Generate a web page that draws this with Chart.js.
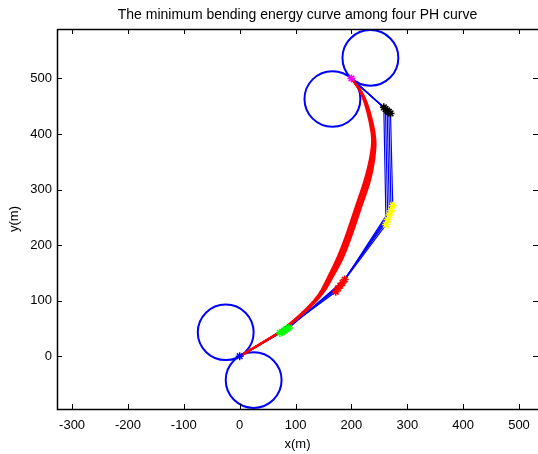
<!DOCTYPE html>
<html>
<head>
<meta charset="utf-8">
<title>Minimum bending energy PH curve</title>
<script src="https://cdn.jsdelivr.net/npm/chart.js@4.4.1/dist/chart.umd.min.js"></script>
<style>
  html, body { margin: 0; padding: 0; background: #fff; }
  canvas { display: block; }
</style>
</head>
<body>
<canvas id="phChart" width="538" height="454"></canvas>
<script>
// Axis ticks (metres)
const xTicks = [-300, -200, -100, 0, 100, 200, 300, 400, 500];
const yTicks = [0, 100, 200, 300, 400, 500];

// Turning circles at start and end pose
const circleRadius = 50;
const circleX = [-25, 25, 166, 234];
const circleY = [43, -43, 463, 537];

// Shared end points of every curve
const startX = [0];
const startY = [0];
const endX = [200];
const endY = [500];

// Inner control points P1..P4 of the candidate control polygons
const p1X = [72, 76, 80, 84, 88];
const p1Y = [42, 44, 46, 49, 51];
const p2X = [172, 176, 180, 184, 188];
const p2Y = [116, 122, 127, 132, 138];
const p3X = [262, 265, 268, 271, 274];
const p3Y = [237, 246, 254, 262, 271];
const p4X = [258, 261, 264, 267, 270];
const p4Y = [448, 445, 442, 440, 437];

// Sampled PH curves
const curveY = [0, 24, 50, 84, 112, 140, 180, 225, 270, 315, 355, 390, 424, 455, 478, 500];
const curve1X = [0, 40, 79, 118, 142, 157, 176, 193, 208, 223, 233, 237, 232, 224, 215, 200];
const curve2X = [0, 40, 80, 119, 144, 159, 178, 195, 210, 225, 235, 238, 233, 225, 215, 200];
const curve3X = [0, 40, 80, 120, 145, 161, 181, 198, 213, 228, 237, 240, 234, 226, 216, 200];
const curve4X = [0, 40, 80, 121, 146, 163, 183, 200, 215, 230, 239, 241, 235, 227, 217, 200];
const curve5X = [0, 41, 81, 122, 148, 165, 186, 203, 218, 233, 241, 243, 237, 228, 217, 200];

const FONT = "'Liberation Sans', Arial, Helvetica, sans-serif";

function toPoints(xs, ys) {
    return xs.map((x, i) => ({ x: x, y: ys[i] }));
}

function controlPolygon(i) {
    return [
        { x: startX[0], y: startY[0] },
        { x: p1X[i], y: p1Y[i] },
        { x: p2X[i], y: p2Y[i] },
        { x: p3X[i], y: p3Y[i] },
        { x: p4X[i], y: p4Y[i] },
        { x: endX[0], y: endY[0] }
    ];
}

function markerSet(data, color, order) {
    return {
        data: data,
        showLine: false,
        pointStyle: 'star',
        pointRadius: 4,
        borderColor: color,
        backgroundColor: color,
        pointBorderWidth: 1.5,
        order: order
    };
}

const curveSets = [curve1X, curve2X, curve3X, curve4X, curve5X].map(xs => ({
    data: toPoints(xs, curveY),
    showLine: true,
    borderColor: '#ff0000',
    borderWidth: 2,
    tension: 0.4,
    pointRadius: 0,
    order: 10
}));

const polygonSets = p1X.map((_, i) => ({
    data: controlPolygon(i),
    showLine: true,
    borderColor: '#0000ff',
    borderWidth: 1.2,
    tension: 0,
    pointRadius: 0,
    order: 20
}));

const markerSets = [
    markerSet(toPoints(startX, startY), '#0000ff', 1),
    markerSet(toPoints(p1X, p1Y), '#00ff00', 1),
    markerSet(toPoints(p2X, p2Y), '#ff0000', 1),
    markerSet(toPoints(p3X, p3Y), '#ffff00', 1),
    markerSet(toPoints(p4X, p4Y), '#000000', 1),
    markerSet(toPoints(endX, endY), '#ff00ff', 1)
];

// Circles drawn through the scales so the radius stays in metres
const turningCircles = {
    id: 'turningCircles',
    beforeDatasetsDraw(chart) {
        const { ctx, scales: { x, y } } = chart;
        ctx.save();
        ctx.strokeStyle = '#0000ff';
        ctx.lineWidth = 2;
        circleX.forEach((cx, i) => {
            const px = x.getPixelForValue(cx);
            const py = y.getPixelForValue(circleY[i]);
            const rx = x.getPixelForValue(cx + circleRadius) - px;
            const ry = py - y.getPixelForValue(circleY[i] + circleRadius);
            ctx.beginPath();
            ctx.ellipse(px, py, rx, ry, 0, 0, Math.PI * 2);
            ctx.stroke();
        });
        ctx.restore();
    }
};

// Box, inward ticks and title
const axesFrame = {
    id: 'axesFrame',
    afterDraw(chart) {
        const { ctx, chartArea: a, scales: { x, y } } = chart;
        const len = 5;
        ctx.save();
        ctx.strokeStyle = '#000';
        ctx.lineWidth = 1;
        ctx.beginPath();
        xTicks.forEach(v => {
            const px = Math.round(x.getPixelForValue(v)) + 0.5;
            ctx.moveTo(px, a.bottom); ctx.lineTo(px, a.bottom - len);
            ctx.moveTo(px, a.top); ctx.lineTo(px, a.top + len);
        });
        yTicks.forEach(v => {
            const py = Math.round(y.getPixelForValue(v)) + 0.5;
            ctx.moveTo(a.left, py); ctx.lineTo(a.left + len, py);
            ctx.moveTo(a.right, py); ctx.lineTo(a.right - len, py);
        });
        ctx.stroke();

        ctx.lineWidth = 1.5;
        ctx.beginPath();
        ctx.moveTo(a.left + 0.5, a.top + 0.5);
        ctx.lineTo(a.right, a.top + 0.5);
        ctx.moveTo(a.left + 0.5, a.top);
        ctx.lineTo(a.left + 0.5, a.bottom + 0.5);
        ctx.lineTo(a.right, a.bottom + 0.5);
        ctx.stroke();

        ctx.fillStyle = '#000';
        ctx.font = '14px ' + FONT;
        ctx.textAlign = 'center';
        ctx.textBaseline = 'middle';
        ctx.fillText('The minimum bending energy curve among four PH curve', (a.left + a.right) / 2, 15);
        ctx.restore();
    }
};

new Chart(document.getElementById('phChart'), {
    type: 'scatter',
    data: { datasets: markerSets.concat(curveSets, polygonSets) },
    options: {
        responsive: false,
        animation: false,
        devicePixelRatio: 1,
        layout: { autoPadding: false, padding: { top: 29, right: 0, bottom: 0, left: 0 } },
        plugins: { legend: { display: false }, tooltip: { enabled: false } },
        scales: {
            x: {
                type: 'linear',
                min: -327,
                max: 534,
                grid: { display: false, drawTicks: false },
                border: { display: false },
                afterBuildTicks: s => { s.ticks = xTicks.map(v => ({ value: v })); },
                afterFit: s => { s.height = 45; s.paddingLeft = 0; s.paddingRight = 0; },
                ticks: { color: '#000', font: { family: FONT, size: 13 }, padding: 9, maxRotation: 0 },
                title: { display: true, text: 'x(m)', color: '#000', font: { family: FONT, size: 13 }, padding: { top: 0, bottom: 2 } }
            },
            y: {
                type: 'linear',
                min: -95,
                max: 589,
                grid: { display: false, drawTicks: false },
                border: { display: false },
                afterBuildTicks: s => { s.ticks = yTicks.map(v => ({ value: v })); },
                afterFit: s => { s.width = 57; s.paddingTop = 0; s.paddingBottom = 0; },
                ticks: { color: '#000', font: { family: FONT, size: 13 }, padding: 5 },
                title: { display: true, text: 'y(m)', color: '#000', font: { family: FONT, size: 13 }, padding: { top: 7, bottom: 0 } }
            }
        }
    },
    plugins: [turningCircles, axesFrame]
});
</script>
</body>
</html>
